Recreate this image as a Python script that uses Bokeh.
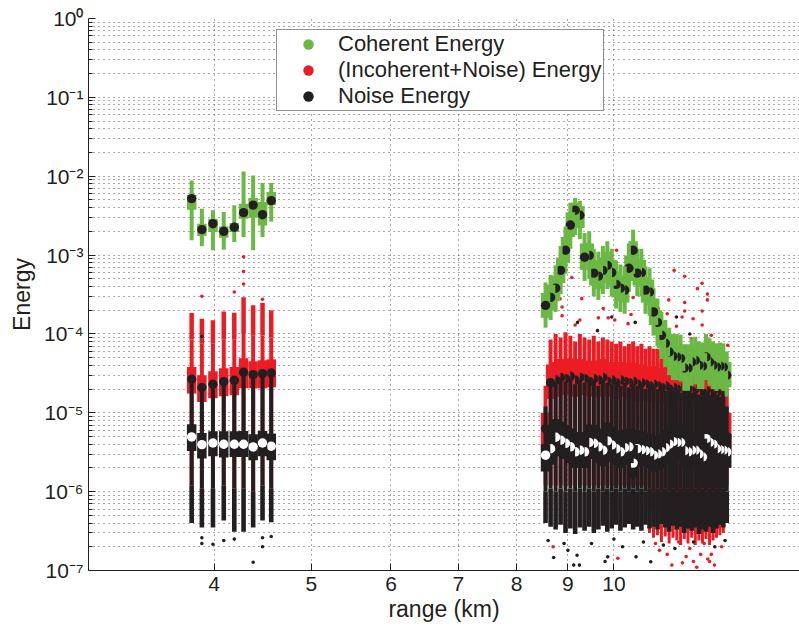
from bokeh.plotting import figure
from bokeh.models import (Range1d, FixedTicker, CustomJSTickFormatter, Legend,
                          LegendItem, ColumnDataSource)
from bokeh.embed import file_html
from bokeh.resources import INLINE

GREEN = "#6cb845"
RED = "#ec1c24"
BLACK = "#231f20"
FONT = "Liberation Sans"

# ---------------- data ----------------
range_left = [3.80, 3.89, 3.99, 4.09, 4.19, 4.28, 4.375, 4.47, 4.56]
range_right = [8.55, 8.65, 8.75, 8.85, 8.95, 9.05, 9.15, 9.25, 9.35, 9.45,
               9.55, 9.65, 9.75, 9.85, 9.95, 10.05, 10.15, 10.25, 10.35, 10.45,
               10.55, 10.65, 10.75, 10.85, 10.95, 11.05, 11.15, 11.25, 11.35, 11.45,
               11.55, 11.65, 11.75, 11.85, 11.95, 12.05, 12.15, 12.25, 12.35, 12.45,
               12.55, 12.65, 12.75, 12.85, 12.95]

# Coherent energy (green)
coh_med_L = [5.2e-3, 2.1e-3, 2.5e-3, 2.0e-3, 2.25e-3, 3.45e-3, 4.3e-3, 3.25e-3, 4.9e-3]
coh_q1_L = [3.76e-3, 1.74e-3, 1.96e-3, 1.66e-3, 1.96e-3, 2.89e-3, 2.98e-3, 2.38e-3, 4.27e-3]
coh_q3_L = [5.8e-3, 2.5e-3, 2.89e-3, 2.31e-3, 2.55e-3, 4.48e-3, 5.28e-3, 4.7e-3, 6.29e-3]
coh_lo_L = [1.54e-3, 1.29e-3, 1.15e-3, 1.17e-3, 1.46e-3, 1.69e-3, 1.15e-3, 1.69e-3, 2.67e-3]
coh_hi_L = [8.85e-3, 3.87e-3, 3.69e-3, 3.51e-3, 4.27e-3, 1.15e-2, 1.02e-2, 8.18e-3, 8.18e-3]

coh_med_R = [2.3e-4, 2.9e-4, 3.8e-4, 6.4e-4, 1.15e-3, 2.4e-3, 3.7e-3, 3.2e-3, 9.4e-4, 9.9e-4,
             5.9e-4, 5.4e-4, 6.4e-4, 7.4e-4, 6.0e-4, 4.25e-4, 3.8e-4, 3.6e-4, 6.8e-4, 1.15e-3,
             5.9e-4, 6.0e-4, 3.6e-4, 3.4e-4, 1.9e-4, 1.4e-4, 9.6e-5, 7.6e-5, 5.9e-5, 5.2e-5,
             5.1e-5, 4.9e-5, 3.7e-5, 3.7e-5, 4.4e-5, 4.6e-5, 4.0e-5, 3.9e-5, 5.1e-5, 4.4e-5,
             4.0e-5, 3.8e-5, 3.9e-5, 3.8e-5, 3.0e-5]
coh_q1_R = [1.6e-4, 2.0e-4, 2.6e-4, 4.4e-4, 7.9e-4, 1.7e-3, 2.6e-3, 2.2e-3, 6.5e-4, 6.8e-4,
            4.1e-4, 3.7e-4, 4.4e-4, 5.1e-4, 4.1e-4, 2.9e-4, 2.6e-4, 2.5e-4, 4.7e-4, 7.9e-4,
            4.1e-4, 4.1e-4, 2.5e-4, 2.3e-4, 1.3e-4, 9.7e-5, 6.6e-5, 5.2e-5, 4.1e-5, 3.6e-5,
            3.5e-5, 3.4e-5, 2.6e-5, 2.6e-5, 3.0e-5, 3.2e-5, 2.8e-5, 2.7e-5, 3.5e-5, 3.0e-5,
            2.8e-5, 2.6e-5, 2.7e-5, 2.6e-5, 2.1e-5]
coh_q3_R = [3.3e-4, 4.2e-4, 5.5e-4, 9.3e-4, 1.7e-3, 3.5e-3, 4.6e-3, 4.2e-3, 1.4e-3, 1.4e-3,
            8.6e-4, 7.8e-4, 9.3e-4, 1.1e-3, 8.7e-4, 6.2e-4, 5.5e-4, 5.2e-4, 9.9e-4, 1.5e-3,
            8.6e-4, 8.7e-4, 5.2e-4, 4.9e-4, 2.8e-4, 2.0e-4, 1.4e-4, 1.1e-4, 8.6e-5, 7.5e-5,
            7.4e-5, 7.1e-5, 5.4e-5, 5.4e-5, 6.4e-5, 6.7e-5, 5.8e-5, 5.7e-5, 7.4e-5, 6.4e-5,
            5.8e-5, 5.5e-5, 5.7e-5, 5.5e-5, 4.4e-5]
coh_lo_R = [1.2e-4, 1.5e-4, 1.9e-4, 3.2e-4, 5.8e-4, 1.2e-3, 1.8e-3, 1.6e-3, 4.7e-4, 5.0e-4,
            3.0e-4, 2.7e-4, 3.2e-4, 3.7e-4, 3.0e-4, 2.1e-4, 1.9e-4, 1.8e-4, 3.4e-4, 5.8e-4,
            3.0e-4, 3.0e-4, 1.8e-4, 1.7e-4, 9.5e-5, 7.0e-5, 4.8e-5, 3.8e-5, 3.0e-5, 2.6e-5,
            2.6e-5, 2.5e-5, 1.9e-5, 1.9e-5, 2.2e-5, 2.3e-5, 2.0e-5, 2.0e-5, 2.6e-5, 2.2e-5,
            2.0e-5, 1.9e-5, 2.0e-5, 1.9e-5, 1.6e-5]
coh_hi_R = [4.5e-4, 5.6e-4, 7.4e-4, 1.3e-3, 2.3e-3, 4.6e-3, 5.3e-3, 4.9e-3, 1.9e-3, 2.0e-3,
            1.2e-3, 1.1e-3, 1.3e-3, 1.5e-3, 1.2e-3, 8.5e-4, 7.6e-4, 7.2e-4, 1.4e-3, 2.1e-3,
            1.2e-3, 1.2e-3, 7.2e-4, 6.8e-4, 3.8e-4, 2.8e-4, 1.9e-4, 1.5e-4, 1.2e-4, 1.0e-4,
            1.0e-4, 9.8e-5, 7.4e-5, 7.4e-5, 8.8e-5, 9.2e-5, 8.0e-5, 7.8e-5, 1.0e-4, 8.8e-5,
            8.0e-5, 7.6e-5, 7.8e-5, 7.6e-5, 6.0e-5]

# (Incoherent+Noise) energy (red)
inc_med_L = [2.66e-5, 2.09e-5, 2.3e-5, 2.48e-5, 2.58e-5, 3.26e-5, 3.05e-5, 3.14e-5, 3.19e-5]
inc_q1_L = [1.75e-5, 1.37e-5, 1.53e-5, 1.62e-5, 1.67e-5, 2.04e-5, 2.04e-5, 2.04e-5, 2.1e-5]
inc_q3_L = [3.8e-5, 3.0e-5, 3.36e-5, 3.66e-5, 3.8e-5, 4.91e-5, 4.49e-5, 4.63e-5, 4.76e-5]
inc_lo_L = [1.2e-6, 1.1e-6, 1.1e-6, 1.2e-6, 1.1e-6, 1.1e-6, 1.0e-6, 1.2e-6, 1.1e-6]
inc_hi_L = [8.5e-5, 7.5e-5, 7.5e-5, 8.5e-5, 8.5e-5, 1.0e-4, 9.5e-5, 9.5e-5, 9.0e-5]
inc_out_hi_L = [1.84e-4, 1.56e-4, 1.49e-4, 1.93e-4, 1.86e-4, 2.91e-4, 2.31e-4, 2.47e-4, 1.99e-4]

inc_med_R = [6.3e-6, 2.4e-5, 2.6e-5, 2.8e-5, 2.7e-5, 2.9e-5, 2.6e-5, 2.8e-5, 2.7e-5, 2.5e-5,
             2.7e-5, 2.6e-5, 2.8e-5, 2.5e-5, 2.6e-5, 2.4e-5, 2.6e-5, 2.5e-5, 2.4e-5, 2.5e-5,
             2.3e-5, 2.4e-5, 2.3e-5, 2.2e-5, 2.3e-5, 2.2e-5, 2.1e-5, 2.2e-5, 2.0e-5, 2.1e-5,
             2.0e-5, 2.1e-5, 1.9e-5, 2.0e-5, 1.9e-5, 2.0e-5, 1.9e-5, 1.8e-5, 1.9e-5, 1.8e-5,
             1.9e-5, 1.8e-5, 1.7e-5, 1.8e-5, 5.0e-6]
inc_q1_R = [3.8e-6, 1.5e-5, 1.6e-5, 1.7e-5, 1.7e-5, 1.8e-5, 1.6e-5, 1.7e-5, 1.7e-5, 1.6e-5,
            1.7e-5, 1.6e-5, 1.7e-5, 1.6e-5, 1.6e-5, 1.5e-5, 1.6e-5, 1.6e-5, 1.5e-5, 1.6e-5,
            1.4e-5, 1.5e-5, 1.4e-5, 1.4e-5, 1.4e-5, 1.4e-5, 1.3e-5, 1.4e-5, 1.2e-5, 1.3e-5,
            1.2e-5, 1.3e-5, 1.2e-5, 1.2e-5, 1.2e-5, 1.2e-5, 1.2e-5, 1.1e-5, 1.2e-5, 1.1e-5,
            1.2e-5, 1.1e-5, 1.1e-5, 1.1e-5, 3.0e-6]
inc_q3_R = [1.0e-5, 4.1e-5, 4.4e-5, 4.8e-5, 4.6e-5, 4.9e-5, 4.4e-5, 4.8e-5, 4.6e-5, 4.3e-5,
            4.6e-5, 4.4e-5, 4.8e-5, 4.3e-5, 4.4e-5, 4.1e-5, 4.4e-5, 4.3e-5, 4.1e-5, 4.3e-5,
            3.9e-5, 4.1e-5, 3.9e-5, 3.7e-5, 3.9e-5, 3.7e-5, 3.6e-5, 3.7e-5, 3.4e-5, 3.6e-5,
            3.4e-5, 3.6e-5, 3.2e-5, 3.4e-5, 3.2e-5, 3.4e-5, 3.2e-5, 3.1e-5, 3.2e-5, 3.1e-5,
            3.2e-5, 3.1e-5, 2.9e-5, 3.1e-5, 1.0e-5]
inc_hi_R = [2.2e-5, 8.5e-5, 1.0e-4, 9.0e-5, 1.05e-4, 9.5e-5, 8.0e-5, 1.0e-4, 9.0e-5, 8.5e-5,
            9.5e-5, 8.0e-5, 9.0e-5, 8.5e-5, 8.0e-5, 7.5e-5, 8.0e-5, 7.0e-5, 7.5e-5, 8.0e-5,
            7.0e-5, 7.5e-5, 6.5e-5, 7.0e-5, 6.5e-5, 6.5e-5, 6.0e-5, 6.0e-5, 5.5e-5, 6.0e-5,
            5.5e-5, 5.5e-5, 5.0e-5, 5.5e-5, 5.0e-5, 5.0e-5, 4.8e-5, 5.0e-5, 4.8e-5, 4.6e-5,
            4.8e-5, 4.6e-5, 4.5e-5, 4.6e-5, 2.0e-5]
inc_lo_R = [1.2e-6, 1.2e-6, 1.2e-6, 1.2e-6, 1.2e-6, 1.2e-6, 1.2e-6, 1.2e-6, 1.2e-6, 1.2e-6,
            1.2e-6, 1.2e-6, 1.2e-6, 1.2e-6, 1.2e-6, 1.2e-6, 1.2e-6, 1.2e-6, 1.2e-6, 1.2e-6,
            1.2e-6, 1.2e-6, 1.2e-6, 6.0e-7, 6.0e-7, 6.0e-7, 6.0e-7, 6.0e-7, 6.0e-7, 6.0e-7,
            6.0e-7, 6.0e-7, 6.0e-7, 6.0e-7, 6.0e-7, 6.0e-7, 6.0e-7, 6.0e-7, 6.0e-7, 6.0e-7,
            6.0e-7, 6.0e-7, 6.0e-7, 6.0e-7, 1.2e-6]
inc_out_lo_R = [1.2e-6, 1.2e-6, 1.2e-6, 1.2e-6, 1.2e-6, 1.2e-6, 1.2e-6, 1.2e-6, 1.2e-6, 1.2e-6,
                1.2e-6, 1.2e-6, 1.2e-6, 1.2e-6, 1.2e-6, 1.2e-6, 1.2e-6, 1.2e-6, 1.2e-6, 1.2e-6,
                1.2e-6, 1.2e-6, 1.2e-6, 3.0e-7, 2.6e-7, 2.8e-7, 2.3e-7, 2.7e-7, 2.2e-7, 2.6e-7,
                2.4e-7, 2.1e-7, 2.5e-7, 2.2e-7, 2.6e-7, 2.1e-7, 2.4e-7, 2.2e-7, 2.5e-7, 2.1e-7,
                2.4e-7, 2.6e-7, 2.8e-7, 3.0e-7, 1.2e-6]

# Noise energy (black)
noi_med_L = [4.94e-6, 3.95e-6, 4.14e-6, 3.99e-6, 3.99e-6, 3.99e-6, 3.69e-6, 4.14e-6, 3.76e-6]
noi_q1_L = [3.28e-6, 2.63e-6, 2.81e-6, 2.71e-6, 2.75e-6, 2.75e-6, 2.5e-6, 2.81e-6, 2.5e-6]
noi_q3_L = [7.15e-6, 5.55e-6, 5.83e-6, 5.83e-6, 5.83e-6, 5.88e-6, 5.34e-6, 5.88e-6, 5.45e-6]
noi_lo_L = [1.2e-6, 1.1e-6, 1.1e-6, 1.2e-6, 1.1e-6, 1.1e-6, 1.0e-6, 1.2e-6, 1.1e-6]
noi_hi_L = [2.4e-5, 1.9e-5, 2.1e-5, 2.3e-5, 2.4e-5, 3.0e-5, 2.8e-5, 2.9e-5, 2.9e-5]
noi_out_lo_L = [4.0e-7, 3.5e-7, 3.5e-7, 4.3e-7, 3.1e-7, 3.1e-7, 3.5e-7, 4.3e-7, 4.1e-7]

noi_med_R = [2.9e-6, 3.5e-6, 4.9e-6, 4.5e-6, 4.1e-6, 3.7e-6, 3.2e-6, 3.35e-6, 3.2e-6, 4.2e-6,
             4.1e-6, 3.7e-6, 3.35e-6, 4.4e-6, 3.9e-6, 3.5e-6, 3.2e-6, 3.6e-6, 3.7e-6, 2.3e-6,
             3.5e-6, 3.4e-6, 3.3e-6, 3.2e-6, 2.9e-6, 3.0e-6, 3.2e-6, 3.6e-6, 4.0e-6, 4.3e-6,
             4.2e-6, 4.2e-6, 3.3e-6, 3.2e-6, 3.35e-6, 3.35e-6, 3.0e-6, 2.75e-6, 4.7e-6, 4.2e-6,
             4.0e-6, 3.5e-6, 3.4e-6, 3.35e-6, 3.2e-6]
noi_q1_R = [1.8e-6, 2.2e-6, 3.0e-6, 2.8e-6, 2.6e-6, 2.3e-6, 2.0e-6, 2.1e-6, 2.0e-6, 2.6e-6,
            2.6e-6, 2.3e-6, 2.1e-6, 2.7e-6, 2.4e-6, 2.2e-6, 2.0e-6, 2.2e-6, 2.3e-6, 1.5e-6,
            2.2e-6, 2.1e-6, 2.1e-6, 2.0e-6, 1.8e-6, 1.9e-6, 2.0e-6, 2.2e-6, 2.5e-6, 2.7e-6,
            2.6e-6, 2.6e-6, 2.1e-6, 2.0e-6, 2.1e-6, 2.1e-6, 1.9e-6, 1.7e-6, 2.9e-6, 2.6e-6,
            2.5e-6, 2.2e-6, 2.1e-6, 2.1e-6, 2.0e-6]
noi_q3_R = [4.0e-6, 6.0e-6, 8.3e-6, 7.7e-6, 7.0e-6, 6.3e-6, 5.4e-6, 5.7e-6, 5.4e-6, 7.1e-6,
            7.0e-6, 6.3e-6, 5.7e-6, 7.5e-6, 6.6e-6, 6.0e-6, 5.4e-6, 6.1e-6, 6.3e-6, 3.9e-6,
            6.0e-6, 5.8e-6, 5.6e-6, 5.4e-6, 4.9e-6, 5.1e-6, 5.4e-6, 6.1e-6, 6.8e-6, 7.3e-6,
            7.1e-6, 7.1e-6, 5.6e-6, 5.4e-6, 5.7e-6, 5.7e-6, 5.1e-6, 4.7e-6, 8.0e-6, 7.1e-6,
            6.8e-6, 6.0e-6, 5.8e-6, 5.7e-6, 5.4e-6]
noi_lo_R = [1.0e-6, 1.1e-6, 1.0e-6, 1.1e-6, 1.0e-6, 1.1e-6, 1.0e-6, 1.1e-6, 1.0e-6, 1.1e-6,
            1.0e-6, 1.1e-6, 1.0e-6, 1.1e-6, 1.0e-6, 1.1e-6, 1.0e-6, 1.1e-6, 1.0e-6, 1.1e-6,
            1.0e-6, 1.1e-6, 1.0e-6, 1.1e-6, 1.0e-6, 1.1e-6, 1.0e-6, 1.1e-6, 1.0e-6, 1.1e-6,
            1.0e-6, 1.1e-6, 1.0e-6, 1.1e-6, 1.0e-6, 1.1e-6, 1.0e-6, 1.1e-6, 1.0e-6, 1.1e-6,
            1.0e-6, 1.1e-6, 1.0e-6, 1.1e-6, 1.0e-6]
noi_hi_R = [1.2e-5, 2.6e-5, 2.4e-5, 2.8e-5, 2.5e-5, 2.7e-5, 2.3e-5, 2.6e-5, 2.4e-5, 2.7e-5,
            2.5e-5, 2.2e-5, 2.6e-5, 2.4e-5, 2.3e-5, 2.5e-5, 2.2e-5, 2.4e-5, 2.1e-5, 2.3e-5,
            2.2e-5, 2.4e-5, 2.0e-5, 2.2e-5, 2.1e-5, 2.0e-5, 2.2e-5, 1.9e-5, 2.1e-5, 1.9e-5,
            2.0e-5, 1.8e-5, 2.0e-5, 1.9e-5, 1.8e-5, 1.9e-5, 1.7e-5, 1.9e-5, 1.8e-5, 1.7e-5,
            1.8e-5, 1.7e-5, 1.6e-5, 1.7e-5, 1.2e-5]
noi_out_lo_R = [4.0e-7, 3.6e-7, 3.3e-7, 3.8e-7, 3.0e-7, 3.4e-7, 2.9e-7, 3.5e-7, 3.2e-7, 3.6e-7,
                3.0e-7, 3.3e-7, 3.7e-7, 3.1e-7, 3.4e-7, 3.8e-7, 3.2e-7, 3.5e-7, 3.9e-7, 3.3e-7,
                3.6e-7, 3.2e-7, 3.8e-7, 3.4e-7, 3.6e-7, 3.3e-7, 3.9e-7, 3.5e-7, 3.1e-7, 3.7e-7,
                3.3e-7, 3.6e-7, 3.0e-7, 3.4e-7, 3.2e-7, 3.5e-7, 2.9e-7, 3.3e-7, 3.1e-7, 3.6e-7,
                3.0e-7, 3.4e-7, 3.8e-7, 3.5e-7, 4.0e-7]

# isolated outliers
inc_out_x = [3.89, 4.19, 4.28, 4.28, 4.28, 4.47,
             10.06, 9.08, 9.29, 8.84, 8.88, 8.88, 10.45, 9.76, 9.87, 9.65, 10.02, 9.25, 9.15,
             11.48, 11.76, 12.24, 12.11, 12.39, 12.39, 11.76, 11.34, 11.76, 12.24, 11.99, 12.24,
             11.69, 11.30, 11.54, 11.94, 12.50, 12.98, 12.43, 10.40, 10.33, 11.07,
             8.70, 10.09, 11.42, 12.09, 12.59, 12.20, 11.80, 12.40, 11.10, 11.00, 11.30, 11.60,
             11.90, 12.30, 12.50, 12.80, 12.00, 11.70, 12.45]
inc_out_y = [3.0e-4, 3.4e-4, 6.2e-4, 4.3e-4, 9.5e-4, 2.75e-4,
             1.15e-3, 5.2e-4, 2.8e-4, 2.8e-4, 2.2e-4, 1.7e-4, 2.9e-4, 2.1e-4, 1.6e-4, 1.6e-4, 1.5e-4, 1.5e-4, 1.3e-4,
             6.4e-4, 5.4e-4, 4.4e-4, 3.75e-4, 3.2e-4, 2.7e-4, 2.5e-4, 2.7e-4, 1.95e-4, 1.95e-4, 1.56e-4, 1.3e-4,
             1.64e-4, 1.8e-4, 1.25e-4, 8.7e-5, 9.6e-5, 7.2e-5, 7.2e-5, 1.76e-4, 1.35e-4, 2.1e-4,
             2.0e-7, 1.43e-7, 1.17e-7, 1.1e-7, 1.17e-7, 1.6e-7, 1.5e-7, 1.4e-7, 1.8e-7, 2.2e-7, 1.6e-7, 2.3e-7,
             1.9e-7, 2.2e-7, 1.6e-7, 2.0e-7, 1.3e-7, 1.25e-7, 1.3e-7]
noi_out_x = [3.89, 3.89, 3.89, 3.99, 4.09, 4.19, 4.375, 4.47, 4.47, 4.56,
             9.63, 9.95, 10.5, 11.54, 11.9, 9.2,
             8.71, 9.19, 9.12, 9.24, 8.92, 9.86, 9.80, 10.88, 10.52, 8.60, 9.50, 10.20, 10.70,
             11.20, 9.00, 10.00, 11.50, 12.00, 12.60, 12.90]
noi_out_y = [9.3e-5, 2.6e-7, 2.2e-7, 2.15e-7, 2.4e-7, 2.5e-7, 1.27e-7, 2.0e-7, 2.6e-7, 2.7e-7,
             1.1e-4, 1.64e-4, 1.4e-4, 1.64e-4, 1.0e-4, 1.4e-4,
             1.46e-7, 1.56e-7, 1.17e-7, 1.17e-7, 2.2e-7, 1.49e-7, 1.3e-7, 1.29e-7, 1.49e-7, 2.4e-7, 2.2e-7, 2.0e-7, 2.3e-7,
             2.1e-7, 1.8e-7, 2.5e-7, 1.9e-7, 2.3e-7, 2.0e-7, 2.4e-7]

x_tick_values = [4, 5, 6, 7, 8, 9, 10]
y_tick_values = [1e-7, 1e-6, 1e-5, 1e-4, 1e-3, 1e-2, 1e-1, 1e0]
legend_labels = ["Coherent Energy", "(Incoherent+Noise) Energy", "Noise Energy"]

# ---------------- assemble ----------------
range_km = range_left + range_right
coh = dict(med=coh_med_L + coh_med_R, q1=coh_q1_L + coh_q1_R, q3=coh_q3_L + coh_q3_R,
           lo=coh_lo_L + coh_lo_R, hi=coh_hi_L + coh_hi_R)
coh["out_lo"] = coh["lo"]
coh["out_hi"] = coh["hi"]
inc = dict(med=inc_med_L + inc_med_R, q1=inc_q1_L + inc_q1_R, q3=inc_q3_L + inc_q3_R,
           lo=inc_lo_L + inc_lo_R, hi=inc_hi_L + inc_hi_R,
           out_lo=inc_lo_L + inc_out_lo_R, out_hi=inc_out_hi_L + inc_hi_R)
noi = dict(med=noi_med_L + noi_med_R, q1=noi_q1_L + noi_q1_R, q3=noi_q3_L + noi_q3_R,
           lo=noi_lo_L + noi_lo_R, hi=noi_hi_L + noi_hi_R,
           out_lo=noi_out_lo_L + noi_out_lo_R, out_hi=noi_hi_L + noi_hi_R)
for s in (coh, inc, noi):
    for k, v in s.items():
        assert len(v) == len(range_km), (k, len(v))
assert len(inc_out_x) == len(inc_out_y)
assert len(noi_out_x) == len(noi_out_y)

p = figure(width=799, height=629, x_axis_type="log", y_axis_type="log",
           x_range=Range1d(3.0, 15.3), y_range=Range1d(1e-7, 1.0),
           min_border_left=88, min_border_right=0, min_border_top=18, min_border_bottom=59,
           toolbar_location=None, output_backend="svg")
p.outline_line_color = None
p.background_fill_color = "white"


def box_series(stats, color, med_color, low_out_width):
    xs, y0, y1, cols, widths, caps = [], [], [], [], [], []

    def add(x, a, b, c, w, cap):
        xs.append(x); y0.append(a); y1.append(b); cols.append(c); widths.append(w); caps.append(cap)

    order = sorted(range(len(range_km)), key=lambda i: -range_km[i])
    for i in order:
        x = range_km[i]
        if stats["out_lo"][i] < stats["lo"][i]:
            add(x, stats["out_lo"][i], stats["lo"][i], color, low_out_width, "butt")
        if stats["out_hi"][i] > stats["hi"][i]:
            add(x, stats["hi"][i], stats["out_hi"][i], color, 4.5, "butt")
        add(x, stats["lo"][i], stats["hi"][i], color, 4.0, "butt")
        add(x, stats["q1"][i], stats["q3"][i], color, 9.5, "butt")
        add(x, stats["med"][i], stats["med"][i] * 1.0005, med_color, 9.4, "round")
    src = ColumnDataSource(dict(x=xs, y0=y0, y1=y1, c=cols, w=widths, cap=caps))
    p.segment(x0="x", y0="y0", x1="x", y1="y1", line_color="c", line_width="w",
              line_cap="cap", source=src)


box_series(inc, RED, BLACK, 3.0)
p.scatter(inc_out_x, inc_out_y, size=3.6, fill_color=RED, line_color=None)
box_series(noi, BLACK, "white", 4.6)
p.scatter(noi_out_x, noi_out_y, size=3.6, fill_color=BLACK, line_color=None)
box_series(coh, GREEN, BLACK, 4.0)

# legend (marker-only proxies that draw nothing in the plot area)
nan = float("nan")
leg_r = [p.scatter(x=[nan], y=[nan], size=11, fill_color=c, line_color=None)
         for c in (GREEN, RED, BLACK)]
legend = Legend(items=[LegendItem(label=l, renderers=[r]) for l, r in zip(legend_labels, leg_r)],
                location=(188, 459), orientation="vertical", margin=0,
                label_text_font=FONT, label_text_font_size="22px", label_text_color=BLACK,
                border_line_color=BLACK, border_line_width=1,
                background_fill_color="white", background_fill_alpha=1.0,
                padding=1, spacing=0, glyph_width=60, glyph_height=26, label_height=26,
                label_standoff=0)
p.add_layout(legend, "center")

# axes
p.xaxis.ticker = FixedTicker(ticks=x_tick_values)
p.xaxis.formatter = CustomJSTickFormatter(code="return String(Math.round(tick));")
minor = [m * 10.0 ** e for e in range(-7, 0) for m in range(2, 10)]
p.yaxis.ticker = FixedTicker(ticks=y_tick_values, minor_ticks=minor)
p.yaxis.formatter = CustomJSTickFormatter(code="""
const sup = {"-": "\\u207b", "0": "\\u2070", "1": "\\u00b9", "2": "\\u00b2", "3": "\\u00b3",
             "4": "\\u2074", "5": "\\u2075", "6": "\\u2076", "7": "\\u2077", "8": "\\u2078", "9": "\\u2079"};
const e = Math.round(Math.log10(tick));
return "10" + String(e).split("").map(c => sup[c]).join("");
""")
p.xaxis.axis_label = "range (km)"
p.yaxis.axis_label = "Energy"
for ax in (p.xaxis[0], p.yaxis[0]):
    ax.axis_label_text_font = FONT
    ax.axis_label_text_font_size = "23px"
    ax.axis_label_text_font_style = "normal"
    ax.axis_label_text_color = BLACK
    ax.major_label_text_font = FONT
    ax.major_label_text_font_size = "21px"
    ax.major_label_text_color = BLACK
    ax.axis_line_color = BLACK
    ax.major_tick_line_color = BLACK
    ax.minor_tick_line_color = BLACK
    ax.major_tick_in = 7
    ax.major_tick_out = 0
    ax.minor_tick_in = 4
    ax.minor_tick_out = 0
p.xaxis.major_label_standoff = 6
p.xaxis.axis_label_standoff = 2
p.yaxis.major_label_standoff = 5
p.yaxis.axis_label_standoff = 6

for g in (p.xgrid[0], p.ygrid[0]):
    g.grid_line_color = "#555555"
    g.grid_line_dash = "1 4"
    g.grid_line_width = 1
p.ygrid.minor_grid_line_color = "#555555"
p.ygrid.minor_grid_line_dash = "1 4"
p.ygrid.minor_grid_line_width = 1

open("out.html", "w").write(file_html(p, INLINE))
